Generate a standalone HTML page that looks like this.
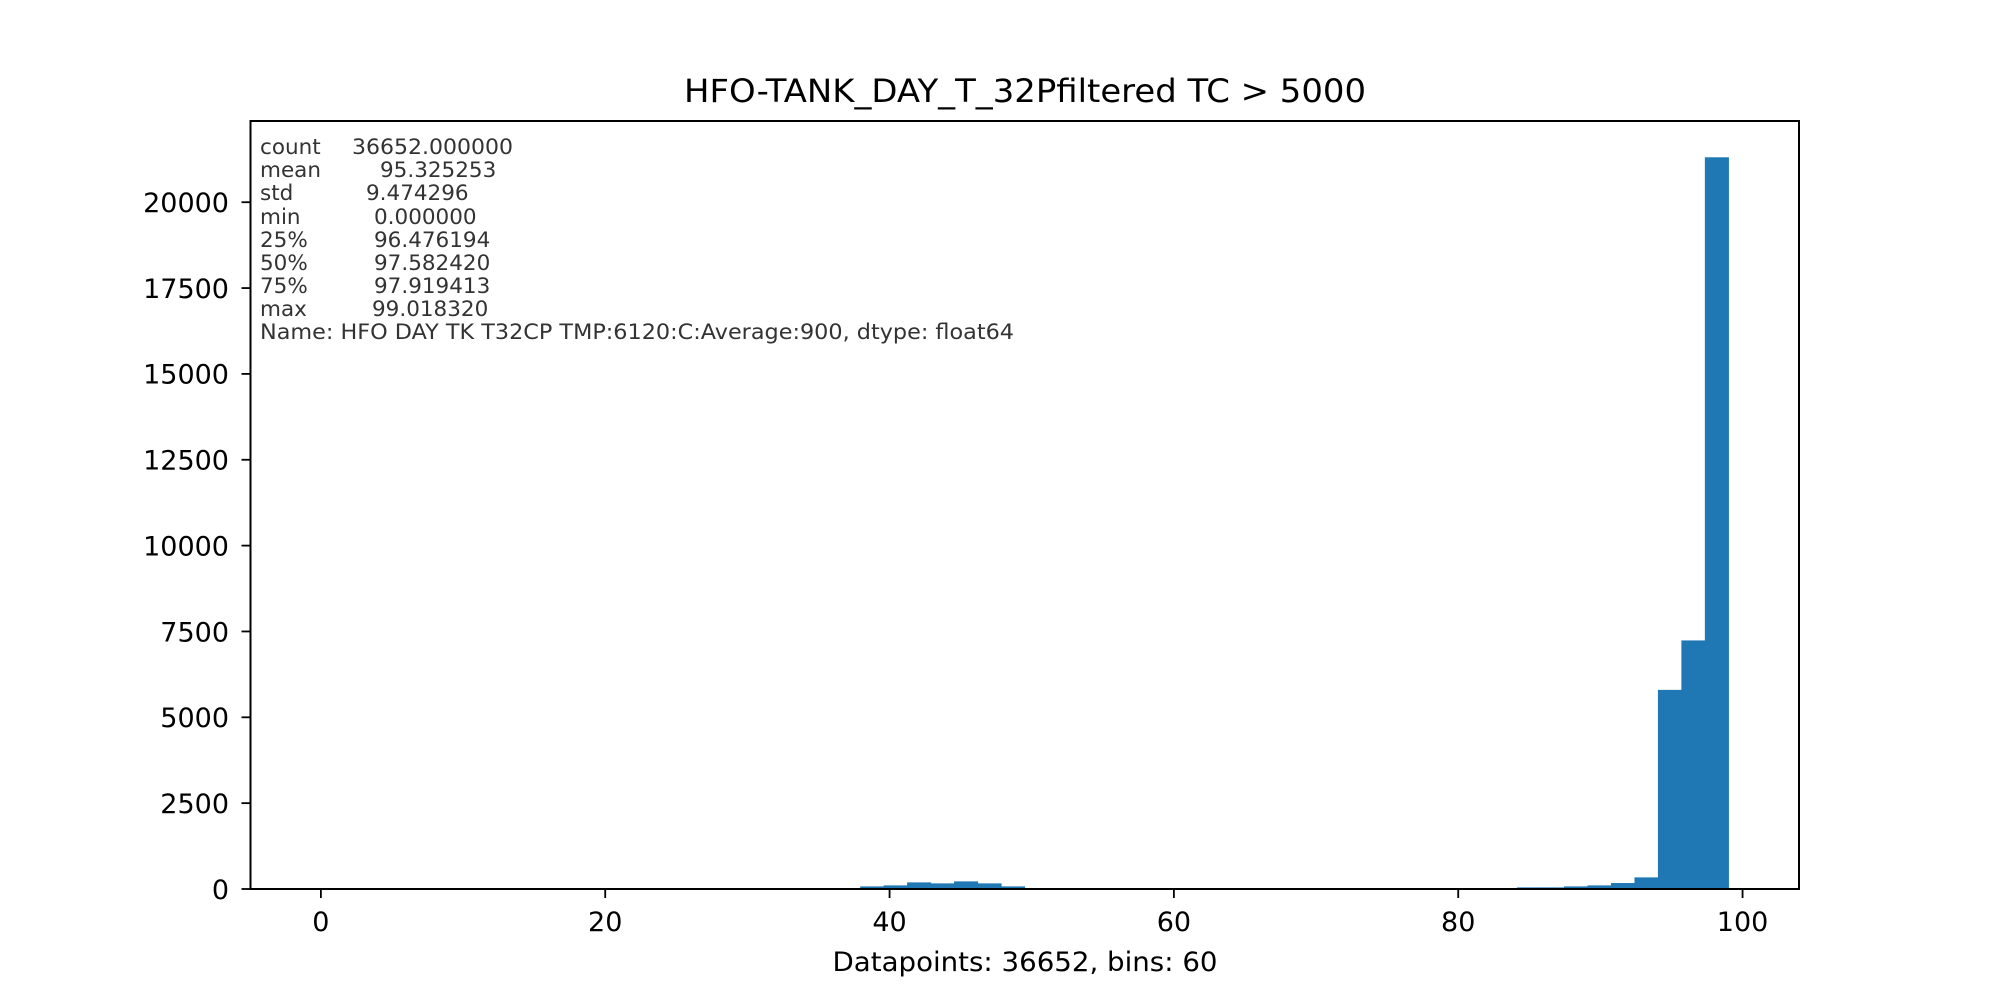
<!DOCTYPE html>
<html><head><meta charset="utf-8"><style>
html,body{margin:0;padding:0;background:#fff;}
svg{display:block;font-family:"DejaVu Sans","Liberation Sans",sans-serif;}
</style></head><body>
<svg id="chart" width="2000" height="1000" viewBox="0 0 2000 1000" xmlns="http://www.w3.org/2000/svg">
<rect width="2000" height="1000" fill="#fff"/>
<text x="1025" y="102" font-size="32" text-anchor="middle" textLength="682" lengthAdjust="spacingAndGlyphs">HFO-TANK_DAY_T_32Pfiltered TC &gt; 5000</text>
<g id="bars"></g>
<g id="xticks"></g>
<g id="yticks"></g>
<rect x="250.5" y="121" width="1548.5" height="768" fill="none" stroke="#000" stroke-width="2"/>
<g font-size="21.5" fill="#333">
<text x="260" y="154">count</text><text x="352" y="154" textLength="161" lengthAdjust="spacingAndGlyphs">36652.000000</text>
<text x="260" y="177">mean</text><text x="380" y="177">95.325253</text>
<text x="260" y="200">std</text><text x="366" y="200">9.474296</text>
<text x="260" y="224">min</text><text x="374" y="224">0.000000</text>
<text x="260" y="247">25%</text><text x="374" y="247">96.476194</text>
<text x="260" y="270">50%</text><text x="374" y="270">97.582420</text>
<text x="260" y="293">75%</text><text x="374" y="293">97.919413</text>
<text x="260" y="316">max</text><text x="372" y="316">99.018320</text>
<text x="260" y="339" textLength="754" lengthAdjust="spacingAndGlyphs">Name: HFO DAY TK T32CP TMP:6120:C:Average:900, dtype: float64</text>
</g>
<text x="1025" y="971" font-size="27" text-anchor="middle" textLength="385" lengthAdjust="spacingAndGlyphs">Datapoints: 36652, bins: 60</text>
</svg>
<script>
const binMin = 0;
const binMax = 99.01832;
const binCount = 60;
const nonZeroBins = [23,24,25,26,27,28,29,50,51,52,53,54,55,56,57,58,59];
const binCounts = [68,97,184,155,213,155,68,15,39,39,68,97,165,330,5790,7230,21300];
const xTicks = [0,20,40,60,80,100];
const yTicks = [0,2500,5000,7500,10000,12500,15000,17500,20000];

const NS = "http://www.w3.org/2000/svg";
const X0 = 250.5, X1 = 1799, Y0 = 889, Y1 = 121;
const xMin = -4.951, xMax = 103.97;
const yMax = 1.05 * Math.max(...binCounts);
const sx = v => X0 + (v - xMin) / (xMax - xMin) * (X1 - X0);
const sy = v => Y0 - v / yMax * (Y0 - Y1);
const bw = (binMax - binMin) / binCount;

const bars = document.getElementById('bars');
nonZeroBins.forEach((b, i) => {
  const r = document.createElementNS(NS, 'rect');
  const a = sx(binMin + b * bw), c = sx(binMin + (b + 1) * bw);
  r.setAttribute('x', a); r.setAttribute('width', c - a);
  r.setAttribute('y', sy(binCounts[i])); r.setAttribute('height', Y0 - sy(binCounts[i]));
  r.setAttribute('fill', '#1f77b4');
  r.setAttribute('stroke', '#1f77b4');
  r.setAttribute('stroke-width', '0.6');
  
  
  bars.appendChild(r);
});

const xg = document.getElementById('xticks');
xTicks.forEach(t => {
  const l = document.createElementNS(NS, 'line');
  l.setAttribute('x1', sx(t)); l.setAttribute('x2', sx(t));
  l.setAttribute('y1', Y0); l.setAttribute('y2', Y0 + 9);
  l.setAttribute('stroke', '#000'); l.setAttribute('stroke-width', '1.8');
  
  
  xg.appendChild(l);
  const tx = document.createElementNS(NS, 'text');
  tx.setAttribute('x', sx(t)); tx.setAttribute('y', 931);
  tx.setAttribute('font-size', '27'); tx.setAttribute('text-anchor', 'middle');
  tx.textContent = t;
  
  
  xg.appendChild(tx);
});

const yg = document.getElementById('yticks');
yTicks.forEach(t => {
  const l = document.createElementNS(NS, 'line');
  l.setAttribute('x1', X0 - 9); l.setAttribute('x2', X0);
  l.setAttribute('y1', sy(t)); l.setAttribute('y2', sy(t));
  l.setAttribute('stroke', '#000'); l.setAttribute('stroke-width', '1.8');
  
  
  yg.appendChild(l);
  const tx = document.createElementNS(NS, 'text');
  tx.setAttribute('x', 229); tx.setAttribute('y', sy(t) + 9.8);
  tx.setAttribute('font-size', '27'); tx.setAttribute('text-anchor', 'end');
  tx.textContent = t;
  
  
  yg.appendChild(tx);
});
</script>
</body></html>
